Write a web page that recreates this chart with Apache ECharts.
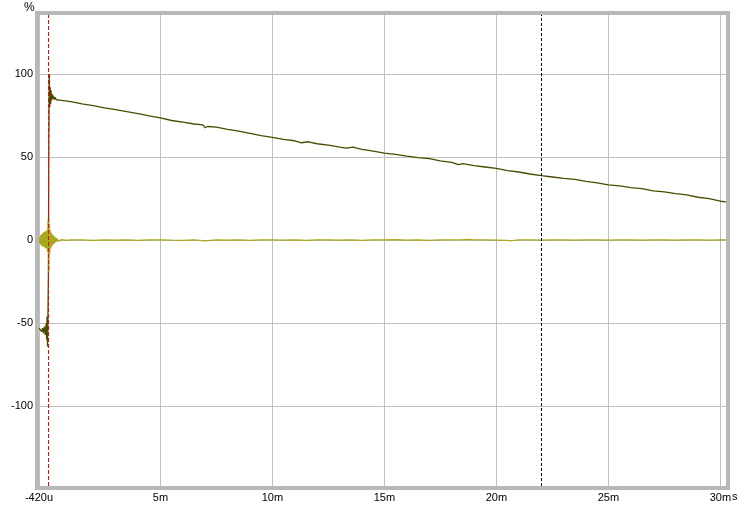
<!DOCTYPE html>
<html>
<head>
<meta charset="utf-8">
<script src="https://cdn.jsdelivr.net/npm/echarts@6/dist/echarts.min.js"></script>
<style>html,body{margin:0;padding:0;background:#fff}#c{width:744px;height:508px}</style>
</head>
<body>
<div id="c"></div>
<script>
// time in ms
var xTickValues = [-0.42, 5, 10, 15, 20, 25, 30];
var yTickValues = [-100, -50, 0, 50, 100];
var cursorTimes = [0, 22];

var stepTime = [-0.42,-0.38,-0.34,-0.30,-0.26,-0.22,-0.18,-0.14,-0.10,-0.08,-0.06,-0.04,-0.02,0.00,0.02,0.04,0.06,0.08,0.10,0.12,0.14,0.16,0.18,0.22,0.26,0.30,0.35,0.40,
  0.5,1.0,1.5,2.0,2.5,3.0,3.5,4.0,4.5,5.0,5.5,6.0,6.5,6.9,7.0,7.1,7.5,8.0,8.5,9.0,9.5,10.0,10.5,11.0,11.3,11.6,12.0,12.5,13.0,13.3,13.6,14.0,14.5,15.0,15.5,16.0,16.5,17.0,17.5,18.0,18.3,18.5,19.0,19.5,20.0,20.5,21.0,21.5,22.0,22.5,23.0,23.5,24.0,24.5,25.0,25.5,26.0,26.5,27.0,27.5,28.0,28.5,29.0,29.5,30.0,30.25];
var stepValues = [-53,-54,-52,-55,-53,-56,-52,-57,-50,-60,-46,-64,-45,-20,60,100,80,92,82,90,84,88,85,87,84.5,86,84.5,85.2,
  84.3,83.4,82.0,81.0,79.6,78.6,77.3,76.2,74.8,73.6,72.0,71.0,69.9,69.4,67.6,68.4,68.0,66.6,65.6,64.3,62.9,61.8,60.6,59.8,58.6,59.2,58.0,57.2,56.0,55.4,56.0,54.6,53.6,52.4,51.6,50.6,49.7,49.0,47.7,46.8,45.4,46.0,44.8,44.0,43.2,41.8,41.0,39.8,38.8,38.0,37.2,36.6,35.4,34.4,33.2,32.6,31.6,31.0,29.6,29.0,28.0,27.2,25.8,25.0,23.4,23.0];

var impTime = [-0.42,-0.40,-0.38,-0.36,-0.34,-0.32,-0.30,-0.28,-0.26,-0.24,-0.22,-0.20,-0.18,-0.16,-0.14,-0.12,-0.10,-0.08,-0.06,-0.04,-0.02,0.00,0.02,0.04,0.06,0.08,0.10,0.12,0.14,0.16,0.18,0.20,0.22,0.24,0.26,0.28,0.30,0.32,0.34,0.36,0.38,0.40,0.44,0.48,0.52,0.6,0.8,
  1.0,1.5,2.0,2.5,3.0,3.5,4.0,4.5,5.0,5.5,6.0,6.5,7.0,7.5,8.0,8.5,9.0,9.5,10.0,10.5,11.0,11.5,12.0,12.5,13.0,13.5,14.0,14.5,15.0,15.5,16.0,16.5,17.0,17.5,18.0,18.5,18.8,19.0,19.5,20.0,20.5,20.6,21.0,21.5,22.0,22.5,23.0,23.5,24.0,24.5,25.0,25.5,26.0,26.5,27.0,27.5,28.0,28.5,29.0,29.5,30.0,30.25];
var impValues = [0.5,-1.5,2,-2.5,3,-3,3.5,-3.5,4,-4,4.5,-4,5,-4.5,5,-5,5.5,-5,6,-7,9,13,-19,10,-8,6,-5,4.5,-4,3.5,-3,3,-2.5,2.5,-2,2,-1.5,1.5,-1,1,-0.8,0.8,-0.6,0.5,-0.3,0.3,-0.2,
  0.1,0.2,-0.1,0.2,0,0.1,-0.2,0.1,0.2,0,-0.1,0.2,-0.5,0.1,0,0.2,-0.1,0.1,0.2,0,0.1,-0.1,0.2,0.1,0,0.2,-0.1,0.1,0.2,0.3,0,0.2,-0.1,0.2,0.1,0.3,0.5,0.1,0.2,0,-0.2,-0.5,0.1,0.2,0,0.1,0.2,0,0.1,0.2,0,0.1,0.2,0,0.1,0.2,0,0.1,0.2,0,0.1,0.1];

function zip(a, b) { var r = []; for (var i = 0; i < a.length; i++) r.push([a[i], b[i]]); return r; }

function fmtX(v) {
  if (Math.abs(v + 0.42) < 1e-6) return '-420u';
  return Math.round(v) + 'm';
}

var chart = echarts.init(document.getElementById('c'), null, {renderer: 'canvas'});
chart.setOption({
  animation: false,
  backgroundColor: '#fff',
  textStyle: {fontFamily: 'Liberation Sans, Arial, sans-serif'},
  grid: {left: 39, top: 15, right: 18, bottom: 22, show: false},
  graphic: [
    {type: 'rect', shape: {x: 37, y: 13, width: 691, height: 475}, style: {fill: 'none', stroke: '#b8b8b8', lineWidth: 4}, z: 100},
    {type: 'text', x: 24, y: 2, style: {text: '%', font: '12px Liberation Sans, Arial', fill: '#000'}},
    {type: 'text', x: 732, y: 491, style: {text: 's', font: '11px Liberation Sans, Arial', fill: '#000'}}
  ],
  xAxis: {
    type: 'value', min: -0.42, max: 30.25,
    axisLine: {show: false}, axisTick: {show: false, customValues: [-0.42, 5, 10, 15, 20, 25, 30]},
    axisLabel: {customValues: xTickValues, formatter: fmtX, color: '#000', fontSize: 11, margin: 6, fontFamily: 'Liberation Sans, Arial'},
    splitLine: {show: true, lineStyle: {color: '#c0c0c0', width: 1}}
  },
  yAxis: {
    type: 'value', min: -148, max: 135.5,
    axisLine: {show: false}, axisTick: {show: false, customValues: yTickValues},
    axisLabel: {customValues: yTickValues, color: '#000', fontSize: 11, margin: 6, fontFamily: 'Liberation Sans, Arial'},
    splitLine: {show: true, lineStyle: {color: '#c0c0c0', width: 1}}
  },
  series: [
    {type: 'line', data: zip(stepTime, stepValues), showSymbol: false, symbol: 'none',
     lineStyle: {color: '#4b4b00', width: 1.3}, z: 3,
     markLine: {silent: true, symbol: 'none', label: {show: false},
       data: [
         {xAxis: cursorTimes[0], lineStyle: {color: '#ff0000', type: [4, 2], width: 1}},
         {xAxis: cursorTimes[1], lineStyle: {color: '#000000', type: [3, 2], width: 1}}
       ]}},
    {type: 'line', data: zip(impTime, impValues), showSymbol: false, symbol: 'none',
     lineStyle: {color: '#a8a81c', width: 1.3}, z: 4}
  ]
});
</script>
</body>
</html>
